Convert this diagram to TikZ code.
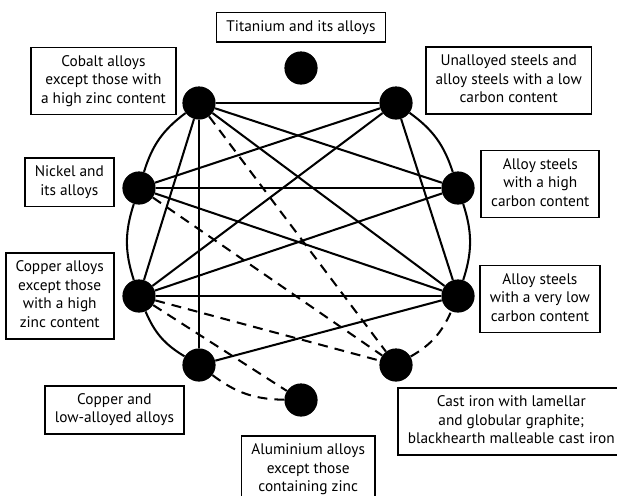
\documentclass[tikz,border=0pt]{standalone}
\usepackage{fontspec}
\setmainfont{PT Sans}
\usepackage{tikz}
\usetikzlibrary{positioning}

\begin{document}
\begin{tikzpicture}[
  metal/.style={circle, fill=black, minimum size=0.83cm, inner sep=0pt},
  box/.style={rectangle, draw, line width=1.2pt, inner xsep=1pt, inner ysep=4pt,
              font=\fontsize{10.9}{13.2}\selectfont},
  link/.style={line width=1.45pt},
  weak/.style={line width=1.45pt, dash pattern=on 7pt off 5pt}
]
\useasboundingbox (-7.45,-6.525) rectangle (7.975,5.85);

\node[metal] (ti)   at (0.075,4.15) {};
\node[metal] (co)   at (-2.475,3.275) {};
\node[metal] (us)   at (2.45,3.275) {};
\node[metal] (ni)   at (-3.975,1.15) {};
\node[metal] (ash)  at (4.0,1.15) {};
\node[metal] (cu)   at (-3.975,-1.55) {};
\node[metal] (asvl) at (4.0,-1.55) {};
\node[metal] (cul)  at (-2.475,-3.275) {};
\node[metal] (fe)   at (2.45,-3.275) {};
\node[metal] (al)   at (0.075,-4.15) {};

\node[box, above=2mm of ti] (tilab) {\begin{tabular}{c}Titanium and its alloys\end{tabular}};
\node[box, left=1.4mm of co, yshift=5.5mm] (colab)
  {\begin{tabular}{c}Cobalt alloys\\except those with\\a high zinc content\end{tabular}};
\node[box, right=3mm of us, yshift=5.6mm] (uslab)
  {\begin{tabular}{c}Unalloyed steels and\\alloy steels with a low\\carbon content\end{tabular}};
\node[box, left=1.9mm of ni, yshift=1.4mm] (nilab)
  {\begin{tabular}{c}Nickel and\\its alloys\end{tabular}};
\node[box, right=1.4mm of ash, yshift=1mm] (ashlab)
  {\begin{tabular}{c}Alloy steels\\with a high\\carbon content\end{tabular}};
\node[box, left=1.9mm of cu] (culab)
  {\begin{tabular}{c}Copper alloys\\except those\\with a high\\zinc content\end{tabular}};
\node[box, right=1.1mm of asvl, yshift=-0.75mm] (asvllab)
  {\begin{tabular}{c}Alloy steels\\with a very low\\carbon content\end{tabular}};
\node[box, below left=2mm and 0.6mm of cul] (cullab)
  {\begin{tabular}{c}Copper and\\low-alloyed alloys\end{tabular}};
\node[box, below=4.6mm of al, xshift=1.8mm] (allab)
  {\begin{tabular}{c}Aluminium alloys\\except those\\containing zinc\end{tabular}};
\node[box, below right=2.6mm and -2.7mm of fe] (felab)
  {\begin{tabular}{c}Cast iron with lamellar\\and globular graphite;\\blackhearth malleable cast iron\end{tabular}};

\draw[link] (co) to[bend right=18] (ni);
\draw[link] (ni) to[bend right=18] (cu);
\draw[link] (cu) to[bend right=18] (cul);
\draw[weak] (cul) to[bend right=18] (al);
\draw[weak] (fe) to[bend right=18] (asvl);
\draw[link] (asvl) to[bend right=18] (ash);
\draw[link] (ash) to[bend right=18] (us);

\draw[link] (co) -- (us);
\draw[link] (co) -- (cu);
\draw[link] (co) -- (cul);
\draw[link] (co) -- (asvl);
\draw[link] (co) -- (ash);
\draw[link] (us) -- (ni);
\draw[link] (us) -- (cu);
\draw[link] (us) -- (asvl);
\draw[link] (ni) -- (ash);
\draw[link] (ni) -- (asvl);
\draw[link] (ash) -- (cu);
\draw[link] (cu) -- (asvl);
\draw[link] (cul) -- (asvl);

\draw[weak] (co) -- (fe);
\draw[weak] (ni) -- (fe);
\draw[weak] (cu) -- (fe);
\draw[weak] (cu) -- (al);

\end{tikzpicture}
\end{document}
